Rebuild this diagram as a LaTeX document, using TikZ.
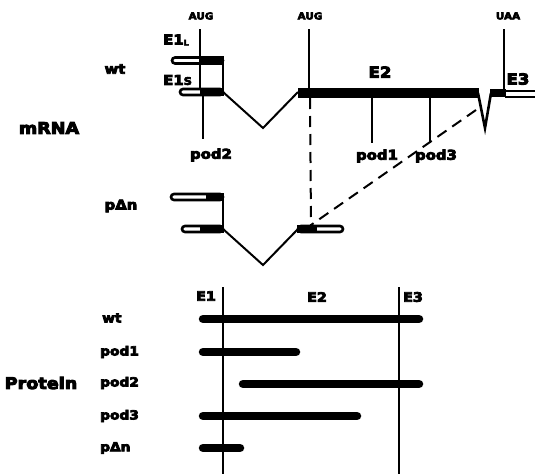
\documentclass[tikz,border=0pt]{standalone}
\usepackage{fontspec}
\newfontfamily\lab[FakeStretch=1.1,FakeBold=6]{DejaVu Sans}
\begin{document}
\begin{tikzpicture}[x=1pt,y=-1pt,
  lbl/.style={inner sep=0pt, font=\lab\bfseries\fontsize{#1}{#1}\selectfont},
  thinline/.style={line width=2pt},
  vline/.style={line width=2.3pt},
  openbar/.style={line width=2.6pt, rounded corners=3pt},
  dashline/.style={line width=2pt, dash pattern=on 11pt off 7pt},
  pbar/.style={line width=8.5pt, line cap=round}]
\useasboundingbox (0,0) rectangle (535,474);

% ---------- top labels ----------
\node[lbl=9.5] (aug1) at (201,16) {AUG};
\node[lbl=9.5] (aug2) at (310,16) {AUG};
\node[lbl=9.5] (uaa) at (508,16) {UAA};
\node[lbl=13.5, anchor=west] (e1l) at (163,40) {E1\raisebox{-1pt}{\fontsize{7.5}{7.5}\selectfont L}};
\node[lbl=13.5, anchor=west] (e1s) at (163,80) {E1{\fontsize{10.5}{10.5}\selectfont S}};
\node[lbl=13.5] (wttop) at (115,69) {wt};
\node[lbl=16] (mrna) at (49,128) {mRNA};
\node[lbl=15] (e2top) at (380,72) {E2};
\node[lbl=15] (e3top) at (518,79) {E3};

% ---------- wt mRNA ----------
\coordinate (a1t) at (200,29); \coordinate (a1b) at (200,89);
\draw[thinline] (a1t) -- (a1b);
\coordinate (p2t) at (203,96); \coordinate (p2b) at (203,139);
\draw[thinline] (p2t) -- (p2b);
\node[lbl=13.5] (pod2top) at (211,155) {pod2};

% E1L and E1S
\draw[openbar] (172,57.5) rectangle (223,63.5);
\fill (200,56.2) rectangle (224.3,64.8);
\draw[openbar] (180,89) rectangle (223,95);
\fill (200,87.7) rectangle (224.3,96.3);
\coordinate (j1) at (223,60); \coordinate (j2) at (223,92);
\draw[thinline] (j1) -- (j2);

% intron V
\coordinate (v1) at (263,128); \coordinate (e2s) at (298,92);
\draw[thinline] (j2) -- (v1) -- (e2s);

% E2
\fill (298,87.5) rectangle (479,97.5);
\coordinate (vl) at (478,93); \coordinate (vt) at (485,128); \coordinate (vr) at (491,93);
\draw[line width=2.6pt, line join=miter] (vl) -- (vt) -- (vr);
\fill (490,88.5) rectangle (506,97);
% E3 (open)
\draw[line width=2pt] (505,90.5) -- (536,90.5);
\draw[line width=2pt] (505,96.5) -- (536,96.5);

% AUG / UAA lines
\coordinate (a2t) at (309,29); \coordinate (a2b) at (309,90);
\draw[thinline] (a2t) -- (a2b);
\coordinate (ut) at (504,29); \coordinate (ub) at (504,92);
\draw[thinline] (ut) -- (ub);

% pod1 / pod3 lines
\coordinate (p1t) at (372,97); \coordinate (p1b) at (372,143);
\draw[thinline] (p1t) -- (p1b);
\coordinate (p3t) at (430,97); \coordinate (p3b) at (430,143);
\draw[thinline] (p3t) -- (p3b);
\node[lbl=13.5] (pod1top) at (377,156) {pod1};
\node[lbl=13.5] (pod3top) at (436,156) {pod3};

% dashed lines
\coordinate (dtop) at (310,98); \coordinate (dmeet) at (311,225); \coordinate (dv) at (476,110);
\draw[dashline] (dtop) -- (dmeet);
\draw[dashline] (dv) -- (dmeet);

% ---------- pΔn mRNA ----------
\node[lbl=13.5] (pdn) at (121,206) {pΔn};
\draw[openbar] (171,194) rectangle (223,200);
\fill (206,192.7) rectangle (224.3,201.3);
\draw[openbar] (182,226) rectangle (223,232);
\fill (200,224.7) rectangle (224.3,233.3);
\coordinate (k1) at (223,197); \coordinate (k2) at (223,229);
\draw[thinline] (k1) -- (k2);
\coordinate (v2) at (263,265); \coordinate (k3) at (298,229);
\draw[thinline] (k2) -- (v2) -- (k3);
\draw[openbar] (298,226) rectangle (343,232);
\fill (296.7,224.7) rectangle (317,233.3);

% ---------- protein ----------
\node[lbl=13] (pe1) at (206,296) {E1};
\node[lbl=13] (pe2) at (317,297) {E2};
\node[lbl=13] (pe3) at (413,297) {E3};
\coordinate (g1t) at (223,287); \coordinate (g1b) at (223,474);
\coordinate (g2t) at (399,287); \coordinate (g2b) at (399,474);
\draw[vline] (g1t) -- (g1b);
\draw[vline] (g2t) -- (g2b);

\node[lbl=16] (protein) at (41,383) {Protein};
\node[lbl=12.5, anchor=west] (lwt) at (102,318) {wt};
\node[lbl=12.5, anchor=west] (lp1) at (100,352) {pod1};
\node[lbl=12.5, anchor=west] (lp2) at (100,383) {pod2};
\node[lbl=12.5, anchor=west] (lp3) at (100,416) {pod3};
\node[lbl=12.5, anchor=west] (lpd) at (100,448) {pΔn};

\coordinate (bwa) at (203,319); \coordinate (bwb) at (419,319);
\draw[pbar] (bwa) -- (bwb);
\coordinate (b1a) at (203,352); \coordinate (b1b) at (296,352);
\draw[pbar] (b1a) -- (b1b);
\coordinate (b2a) at (243,384); \coordinate (b2b) at (419,384);
\draw[pbar] (b2a) -- (b2b);
\coordinate (b3a) at (203,416); \coordinate (b3b) at (357,416);
\draw[pbar] (b3a) -- (b3b);
\coordinate (b4a) at (203,448); \coordinate (b4b) at (240,448);
\draw[pbar] (b4a) -- (b4b);
\end{tikzpicture}
\end{document}
